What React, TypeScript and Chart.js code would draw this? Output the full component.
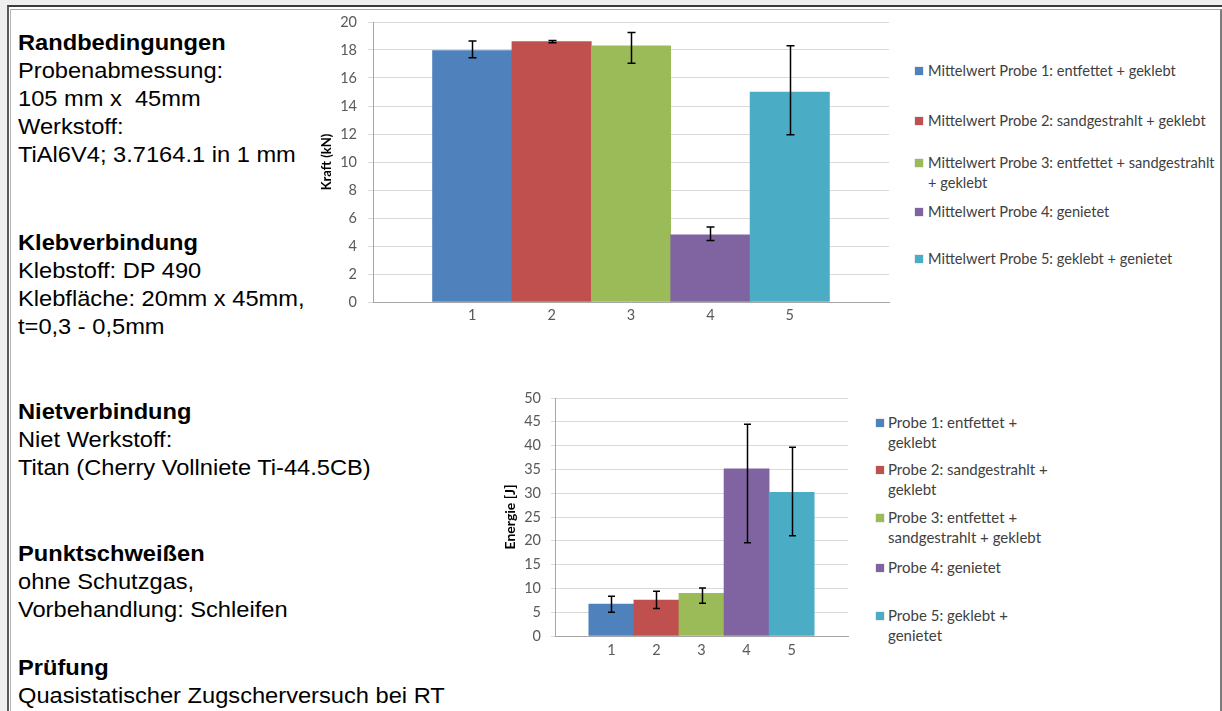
import React, { useEffect, useRef } from "react";
import { Chart, registerables } from "chart.js";

Chart.register(...registerables);

// ---------- DATA ----------
const categories = ["1", "2", "3", "4", "5"];
const colors = ["#4F81BD", "#C0504D", "#9BBB59", "#8064A2", "#4BACC6"];

const forceValues = [17.95, 18.6, 18.3, 4.8, 15.0];
const forceErrPlus = [0.7, 0.08, 0.95, 0.55, 3.3];
const forceErrMinus = [0.5, 0.08, 1.25, 0.4, 3.05];
const forceLegend = [
  ["Mittelwert Probe 1: entfettet + geklebt"],
  ["Mittelwert Probe 2: sandgestrahlt + geklebt"],
  ["Mittelwert Probe 3: entfettet + sandgestrahlt", "+ geklebt"],
  ["Mittelwert Probe 4: genietet"],
  ["Mittelwert Probe 5: geklebt + genietet"],
];

const energyValues = [6.7, 7.55, 8.95, 35.1, 30.2];
const energyErrPlus = [1.65, 1.85, 1.15, 9.4, 9.45];
const energyErrMinus = [1.7, 1.75, 2.05, 15.5, 9.15];
const energyLegend = [
  ["Probe 1: entfettet +", "geklebt"],
  ["Probe 2: sandgestrahlt +", "geklebt"],
  ["Probe 3: entfettet +", "sandgestrahlt + geklebt"],
  ["Probe 4: genietet"],
  ["Probe 5: geklebt +", "genietet"],
];

const textBlocks = [
  { heading: "Randbedingungen", lines: ["Probenabmessung:", "105 mm x  45mm", "Werkstoff:", "TiAl6V4; 3.7164.1 in 1 mm"] },
  { heading: "Klebverbindung", lines: ["Klebstoff: DP 490", "Klebfläche: 20mm x 45mm,", "t=0,3 - 0,5mm"] },
  { heading: "Nietverbindung", lines: ["Niet Werkstoff:", "Titan (Cherry Vollniete Ti-44.5CB)"] },
  { heading: "Punktschweißen", lines: ["ohne Schutzgas,", "Vorbehandlung: Schleifen"] },
  { heading: "Prüfung", lines: ["Quasistatischer Zugscherversuch bei RT"] },
];

// ---------- LAYOUT ----------
const textBlockTops = [29, 229, 398, 540, 654];
const forceLegendTops = [61, 111, 153, 202, 249];
const energyLegendTops = [413, 460, 508, 558, 606];

const FONT = "Lato, 'Open Sans', sans-serif";

const errorBarPlugin = {
  id: "errorBars",
  afterDatasetsDraw(chart: any, _args: any, opts: any) {
    const { ctx } = chart;
    const meta = chart.getDatasetMeta(0);
    const ys = chart.scales.y;
    const { values, plus, minus, cap } = opts;
    ctx.save();
    ctx.strokeStyle = "#000";
    ctx.lineWidth = 1.5;
    meta.data.forEach((bar: any, i: number) => {
      const x = Math.round(bar.x) + 0.5;
      const yT = ys.getPixelForValue(values[i] + plus[i]);
      const yB = ys.getPixelForValue(values[i] - minus[i]);
      ctx.beginPath();
      ctx.moveTo(x, yT);
      ctx.lineTo(x, yB);
      ctx.moveTo(x - cap, yT);
      ctx.lineTo(x + cap, yT);
      ctx.moveTo(x - cap, yB);
      ctx.lineTo(x + cap, yB);
      ctx.stroke();
    });
    ctx.restore();
  },
};

type BarProps = {
  values: number[];
  plus: number[];
  minus: number[];
  yMax: number;
  yStep: number;
  title: string;
  titleSize: number;
  titlePad: number;
  left: number;
  top: number;
  width: number;
  height: number;
  yAxisWidth: number;
  pad: { top: number; right: number; bottom: number; left: number };
  tickLength: number;
  yTickPad: number;
  xTickPad: number;
  cap: number;
};

function BarChart(p: BarProps) {
  const ref = useRef<HTMLCanvasElement | null>(null);
  useEffect(() => {
    if (!ref.current) return;
    const chart = new Chart(ref.current, {
      type: "bar",
      data: {
        datasets: [
          {
            data: p.values.map((v, i) => ({ x: i + 1, y: v })) as any,
            backgroundColor: colors,
            borderWidth: 0,
            barPercentage: 1,
            categoryPercentage: 1,
          },
        ],
      },
      options: {
        animation: false,
        responsive: false,
        layout: { padding: p.pad },
        plugins: {
          legend: { display: false },
          tooltip: { enabled: false },
          errorBars: { values: p.values, plus: p.plus, minus: p.minus, cap: p.cap },
        } as any,
        scales: {
          x: {
            type: "linear",
            offset: false,
            min: -0.25,
            max: categories.length + 1.25,
            afterBuildTicks: (s: any) => {
              s.ticks = categories.map((_, i) => ({ value: i + 1 }));
            },
            afterFit: (s: any) => {
              s.height = 22;
              s.paddingLeft = 0;
              s.paddingRight = 0;
            },
            grid: { display: false, drawTicks: false },
            border: { display: true, color: "#a6a6a6", width: 1 },
            ticks: {
              padding: p.xTickPad,
              color: "#595959",
              font: { family: FONT, size: 14.5 },
              callback: (v: any) => categories[Number(v) - 1] ?? "",
              maxRotation: 0,
              autoSkip: false,
            },
          },
          y: {
            min: 0,
            max: p.yMax,
            afterFit: (s: any) => {
              s.width = p.yAxisWidth;
              s.paddingTop = 0;
              s.paddingBottom = 0;
            },
            grid: { color: "#d9d9d9", tickLength: p.tickLength, lineWidth: 1 },
            border: { display: true, color: "#a6a6a6", width: 1 },
            ticks: {
              stepSize: p.yStep,
              padding: p.yTickPad,
              color: "#595959",
              font: { family: FONT, size: 14.5 },
            },
            title: {
              display: true,
              text: p.title,
              color: "#000",
              padding: { top: p.titlePad, bottom: 0 },
              font: { family: FONT, size: p.titleSize, weight: "bold" },
            },
          },
        },
      },
      plugins: [errorBarPlugin as any],
    });
    return () => chart.destroy();
  }, []);
  return (
    <canvas
      ref={ref}
      width={p.width}
      height={p.height}
      style={{ position: "absolute", left: p.left, top: p.top, width: p.width, height: p.height }}
    />
  );
}

function Legend({
  items,
  tops,
  left,
  markerGap,
  fontSize,
}: {
  items: string[][];
  tops: number[];
  left: number;
  markerGap: number;
  fontSize: number;
}) {
  return (
    <>
      {items.map((lines, i) => (
        <div
          key={i}
          style={{
            position: "absolute",
            left,
            top: tops[i],
            fontFamily: FONT,
            fontSize,
            lineHeight: "19.5px",
            color: "#404040",
            whiteSpace: "nowrap",
          }}
        >
          <span
            style={{
              position: "absolute",
              left: 0,
              top: 6,
              width: 8,
              height: 8,
              background: colors[i],
              boxShadow: "0 0 0 0.5px rgba(0,0,0,0.15)",
            }}
          />
          <div style={{ marginLeft: markerGap }}>
            {lines.map((l, j) => (
              <div key={j}>{l}</div>
            ))}
          </div>
        </div>
      ))}
    </>
  );
}

export default function App() {
  return (
    <div
      style={{
        position: "fixed",
        left: 0,
        top: 0,
        width: 1222,
        height: 711,
        background: "#efefef",
        overflow: "hidden",
      }}
    >
      <div
        style={{
          position: "absolute",
          left: 7,
          top: 5,
          right: 0,
          bottom: -10,
          background: "#fff",
          borderTop: "2px solid #3c3c3c",
          borderLeft: "2px solid #5a5a5a",
        }}
      />
      <div
        style={{
          position: "absolute",
          left: 10,
          top: 9,
          width: 1212,
          bottom: -10,
          boxSizing: "border-box",
          borderTop: "1px solid #a8a8a8",
          borderLeft: "1px solid #b4b4b4",
          borderRight: "2px solid #7c7c7c",
        }}
      />

      {textBlocks.map((b, i) => (
        <div
          key={i}
          style={{
            position: "absolute",
            left: 18,
            top: textBlockTops[i],
            fontFamily: "'Liberation Sans', Arial, sans-serif",
            fontSize: 22,
            lineHeight: "28px",
            color: "#000",
            whiteSpace: "pre",
            transform: "scaleX(1.075)",
            transformOrigin: "left top",
          }}
        >
          <div style={{ fontWeight: "bold" }}>{b.heading}</div>
          {b.lines.map((l, j) => (
            <div key={j}>{l}</div>
          ))}
        </div>
      ))}

      <BarChart
        values={forceValues}
        plus={forceErrPlus}
        minus={forceErrMinus}
        yMax={20}
        yStep={2}
        title="Kraft (kN)"
        titleSize={13}
        titlePad={19.2}
        left={300}
        top={10}
        width={600}
        height={320}
        yAxisWidth={73}
        pad={{ top: 12, right: 11, bottom: 6, left: 0 }}
        tickLength={5}
        yTickPad={11}
        xTickPad={5}
        cap={4}
      />
      <Legend items={forceLegend} tops={forceLegendTops} left={915} markerGap={13} fontSize={14.6} />

      <BarChart
        values={energyValues}
        plus={energyErrPlus}
        minus={energyErrMinus}
        yMax={50}
        yStep={5}
        title="Energie [J]"
        titleSize={14}
        titlePad={11.6}
        left={490}
        top={385}
        width={370}
        height={275}
        yAxisWidth={65}
        pad={{ top: 13, right: 12, bottom: 2, left: 0 }}
        tickLength={4}
        yTickPad={10}
        xTickPad={6}
        cap={3.5}
      />
      <Legend items={energyLegend} tops={energyLegendTops} left={876} markerGap={12} fontSize={15} />
    </div>
  );
}
